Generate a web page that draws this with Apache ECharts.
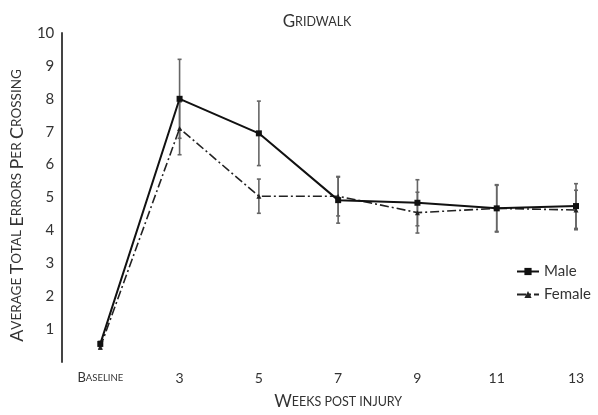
<!DOCTYPE html>
<html><head><meta charset="utf-8">
<script src="https://cdn.jsdelivr.net/npm/echarts@6/dist/echarts.min.js"></script>
<style>html,body{margin:0;padding:0;background:#fff}#c{width:598px;height:415px}</style>
</head><body><div id="c"></div>
<script>
const categories = ['Baseline', '3', '5', '7', '9', '11', '13'];
const maleMean = [0.55, 8.0, 6.95, 4.92, 4.84, 4.67, 4.74];
const maleErr = [0.08, 1.2, 0.98, 0.7, 0.7, 0.72, 0.68];
const femaleMean = [0.45, 7.1, 5.04, 5.04, 4.54, 4.67, 4.62];
const femaleErr = [0.06, 0.8, 0.52, 0.6, 0.62, 0.7, 0.6];
const yTicks = [1, 2, 3, 4, 5, 6, 7, 8, 9, 10];

const font = 'Lato, "Open Sans", sans-serif';
function sc(text) {
  const words = text.split(' ');
  return words.map(w => {
    const first = w[0];
    const rest = w.slice(1).toUpperCase();
    const firstStyle = (first === first.toUpperCase()) ? 'B' : 'S';
    return '{' + firstStyle + '|' + first.toUpperCase() + '}' + (rest ? '{S|' + rest + '}' : '');
  }).join('{S| }');
}

function errSeries(mean, err, color) {
  return {
    type: 'custom',
    data: mean.map((m, i) => [i, m - err[i], m + err[i]]),
    renderItem: function (params, api) {
      const lo = api.coord([api.value(0), api.value(1)]);
      const hi = api.coord([api.value(0), api.value(2)]);
      const cap = 2;
      const st = { stroke: color, lineWidth: 1.6 };
      return { type: 'group', children: [
        { type: 'line', shape: { x1: lo[0], y1: lo[1], x2: hi[0], y2: hi[1] }, style: st },
        { type: 'line', shape: { x1: lo[0] - cap, y1: lo[1], x2: lo[0] + cap, y2: lo[1] }, style: st },
        { type: 'line', shape: { x1: hi[0] - cap, y1: hi[1], x2: hi[0] + cap, y2: hi[1] }, style: st }
      ]};
    },
    z: 1, silent: true
  };
}

const chart = echarts.init(document.getElementById('c'), null, { renderer: 'canvas' });
chart.setOption({
  animation: false,
  backgroundColor: '#fff',
  title: {
    text: '{B|G}{S|RIDWALK}',
    left: 312, top: 8, textAlign: 'center',
    textStyle: { rich: {
      B: { fontFamily: font, fontSize: 17, color: '#333', fontWeight: 'normal' },
      S: { fontFamily: font, fontSize: 12.5, color: '#333', fontWeight: 'normal' }
    } }
  },
  legend: {
    orient: 'vertical', left: 511, top: 259, itemGap: 8, itemWidth: 22, itemHeight: 9,
    textStyle: { fontFamily: font, fontSize: 15, color: '#333' },
    data: ['Male', 'Female']
  },
  grid: { left: 100, right: 22, top: 33, bottom: 50 },
  xAxis: {
    type: 'category', data: categories, boundaryGap: false,
    axisLine: { show: false }, axisTick: { show: false },
    axisLabel: {
      interval: 0, margin: 9, color: '#333', fontFamily: font, fontSize: 14,
      formatter: v => v === 'Baseline' ? '{B|B}{S|ASELINE}' : '{N|' + v + '}',
      rich: {
        B: { fontFamily: font, fontSize: 13, color: '#333' },
        S: { fontFamily: font, fontSize: 9.5, color: '#333' },
        N: { fontFamily: font, fontSize: 14, color: '#333' }
      }
    },
    name: sc('Weeks post injury'), nameLocation: 'middle', nameGap: 31,
    nameTextStyle: { rich: {
      B: { fontFamily: font, fontSize: 17, color: '#333' },
      S: { fontFamily: font, fontSize: 12.5, color: '#333' }
    } }
  },
  yAxis: {
    type: 'value', min: 0, max: 10, interval: 1, offset: 39,
    axisLine: { show: true, lineStyle: { color: '#444', width: 2 } },
    axisTick: { show: false },
    splitLine: { show: false },
    axisLabel: { margin: 7, color: '#333', fontFamily: font, fontSize: 15,
      formatter: v => yTicks.includes(v) ? String(v) : '' },
    name: sc('Average Total Errors Per Crossing'), nameLocation: 'middle', nameGap: 26, nameRotate: 90,
    nameTextStyle: { padding: [0, 16, 0, 0], rich: {
      B: { fontFamily: font, fontSize: 18, color: '#333' },
      S: { fontFamily: font, fontSize: 13.5, color: '#333' }
    } }
  },
  series: [
    errSeries(maleMean, maleErr, '#666'),
    errSeries(femaleMean, femaleErr, '#666'),
    {
      name: 'Male', type: 'line', data: maleMean, symbol: 'rect', symbolSize: 6,
      itemStyle: { color: '#111' }, lineStyle: { color: '#111', width: 2 }, z: 3
    },
    {
      name: 'Female', type: 'line', data: femaleMean, symbol: 'triangle', symbolSize: 5,
      itemStyle: { color: '#222' }, lineStyle: { color: '#222', width: 1.6, type: [9, 3, 2, 3] }, z: 2
    }
  ]
});
</script></body></html>
